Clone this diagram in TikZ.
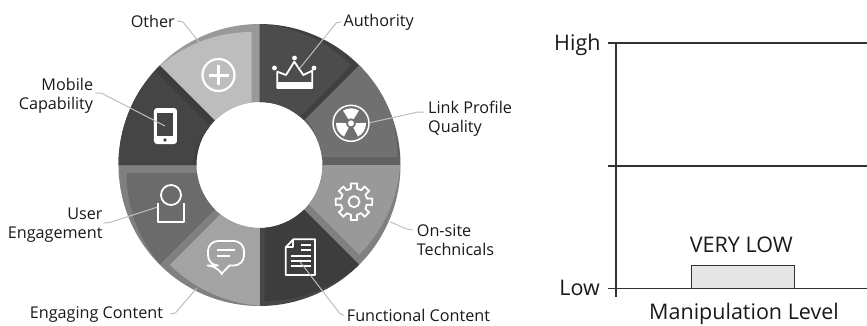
\documentclass[tikz,border=0pt]{standalone}
\usepackage{xcolor}
\usepackage{fontspec}
\setmainfont{Open Sans}
\definecolor{leader}{RGB}{190,190,190}
\definecolor{axisline}{RGB}{50,50,50}
\definecolor{barfill}{RGB}{230,230,230}
\newcommand{\wedgepath}[2]{(#1:141) arc (#1:#2:141) -- (#2:63) arc (#2:#1:63) -- cycle}
% start, end, band, main, offset of the main part
\newcommand{\ringsector}[5]{
  \fill[fill=#3] \wedgepath{#1}{#2};
  \begin{scope}
    \clip \wedgepath{#1}{#2};
    \fill[fill=#4,shift={(#5)}] \wedgepath{#1}{#2};
  \end{scope}
}
\tikzstyle{ringlabel}=[font=\fontsize{16.2}{18.7}\selectfont,inner sep=0pt,text=black!90]
\tikzstyle{chartlabel}=[font=\fontsize{21.5}{24}\selectfont,inner sep=0pt,text=black!90]
\tikzstyle{iconline}=[draw=white,line width=1.8pt,line join=round]
\tikzstyle{iconfill}=[fill=white]
\tikzstyle{leaderline}=[draw=leader,line width=1pt]
\tikzstyle{chartline}=[draw=axisline,line width=1.1pt]
\tikzstyle{levelbar}=[draw=axisline,fill=barfill,line width=1pt,minimum width=102.6pt,minimum height=23.7pt,inner sep=0pt]

\begin{document}
\begin{tikzpicture}[x=1pt,y=1pt]
  \useasboundingbox (-259.5,-160) rectangle (607.5,165);

  %% Ring
  \ringsector{90}{135}{black!40}{black!26}{-8,-8}
  \ringsector{45}{90}{black!75}{black!70}{-8,0}
  \ringsector{0}{45}{black!62}{black!56}{-3,8}
  \ringsector{-45}{0}{black!50}{black!40}{0,10}
  \ringsector{-90}{-45}{black!72}{black!76}{5,5}
  \ringsector{-135}{-90}{black!50}{black!36}{10,0}
  \ringsector{180}{225}{black!50}{black!58}{8,-8}
  \ringsector{135}{180}{black!76}{black!73}{-4,-6}

  %% Icons
  \draw[iconline,line width=2.2pt] (-41,90) circle (16);
  \draw[iconline,line width=3pt] (-51,90) -- (-31,90);
  \draw[iconline,line width=3pt] (-41,80) -- (-41,100);

  \fill[iconfill,rounded corners=3pt] (-105.5,21) rectangle (-82.5,57);
  \fill[fill=black!73] (-102.2,29) rectangle (-86.2,51.7);
  \fill[fill=black!73] (-94.5,25) circle (1.8);

  \draw[iconline] (17.8,77) -- (17.8,93.3) -- (26.5,90) -- (34.8,103.3) -- (43.8,90) -- (52.8,94.3) -- (52.8,77) -- cycle;
  \fill[iconfill] (17.8,76.7) rectangle (52.8,83);
  \foreach \bx/\by in {15/97,35/107,54.5/97}
    \fill[iconfill] (\bx,\by) circle (2.4);

  \begin{scope}[shift={(91.5,41.7)}]
    \draw[iconline,line width=1.5pt] (0,0) circle (18);
    \fill[iconfill] (0,0) circle (3);
    \foreach \a in {90,210,330}
      \fill[iconfill] (\a-32:5) -- (\a-32:15) arc (\a-32:\a+32:15) -- (\a+32:5) arc (\a+32:\a-32:5) -- cycle;
  \end{scope}

  \begin{scope}[shift={(94.5,-36.7)}]
    \draw[iconline] (-13:13) \foreach \a in {0,45,...,315} { -- (\a-13:13.5) -- (\a-10:18.5) -- (\a+10:18.5) -- (\a+13:13.5)} -- cycle;
    \draw[iconline] (0,0) circle (5.5);
  \end{scope}

  \draw[iconline] (33.8,-74.3) -- (55.5,-74.3) -- (55.5,-110) -- (26.2,-110) -- (26.2,-82.3) -- cycle;
  \draw[iconline] (33.8,-74.3) -- (33.8,-82.3) -- (26.2,-82.3);
  \foreach \ly in {-80,-85}
    \draw[iconline] (41,\ly) -- (51,\ly);
  \foreach \ly in {-91,-96,-101}
    \draw[iconline] (31,\ly) -- (51,\ly);

  \draw[iconline,rounded corners=10pt] (-29,-100.5) -- (-15.5,-100.5) -- (-15.5,-76) -- (-51.5,-76) -- (-51.5,-100.5) -- (-42,-100.5) [sharp corners] -- (-37.8,-108.5) -- (-30,-100.5) -- cycle;
  \draw[iconline] (-42.8,-85) -- (-24.5,-85);
  \draw[iconline] (-42.8,-90.7) -- (-29.5,-90.7);

  \draw[iconline] (-88.5,-30) circle (10);
  \draw[iconline] (-101.8,-38.3) -- (-101.8,-56.7) -- (-75.5,-56.7) -- (-75.5,-38.3);

  %% Labels
  \draw (-84.5,138) node[ringlabel,anchor=base east] (other) {Other};
  \draw (83.8,139) node[ringlabel,anchor=base west] (authority) {Authority};
  \draw (168.5,46) node[ringlabel,anchor=west,align=left] (link) {Link Profile\\Quality};
  \draw (157.2,-75) node[ringlabel,anchor=west,align=left] (onsite) {On-site\\Technicals};
  \draw (87.2,-156.5) node[ringlabel,anchor=base west] (functional) {Functional Content};
  \draw (-96.2,-153) node[ringlabel,anchor=base east] (engaging) {Engaging Content};
  \draw (-156.8,-60) node[ringlabel,anchor=east,align=right] (user) {User\\Engagement};
  \draw (-166.2,69) node[ringlabel,anchor=east,align=right] (mobile) {Mobile\\Capability};

  \coordinate (tipOther) at (-47.8,107);
  \coordinate (tipAuthority) at (40.5,97);
  \coordinate (tipLink) at (110.5,42.3);
  \coordinate (tipOnsite) at (130.5,-56.7);
  \coordinate (tipFunctional) at (40.5,-96.7);
  \coordinate (tipEngaging) at (-62.8,-123.3);
  \coordinate (tipUser) at (-102.8,-42.3);
  \coordinate (tipMobile) at (-94.5,39);

  \draw[leaderline] ([xshift=2pt]other.east) -- ++(6,-1) -- (tipOther);
  \draw[leaderline] ([xshift=-2pt]authority.west) -- ++(-5,-1) -- (tipAuthority);
  \draw[leaderline] ([xshift=-4pt,yshift=7pt]link.west) -- ++(-6,0) -- (tipLink);
  \draw[leaderline] ([xshift=-4pt,yshift=10pt]onsite.west) -- ++(-6,1) -- (tipOnsite);
  \draw[leaderline] ([xshift=-3pt]functional.west) -- ++(-4,2) -- (tipFunctional);
  \draw[leaderline] ([xshift=7pt]engaging.east) -- ++(5,1) -- (tipEngaging);
  \draw[leaderline] ([xshift=1pt,yshift=2pt]user.east) -- ++(6,0.5) -- (tipUser);
  \draw[leaderline] ([xshift=2pt,yshift=3pt]mobile.east) -- ++(6,0) -- (tipMobile);

  %% Chart
  \draw[chartline] (356.5,122) -- (356.5,-131.7);
  \draw[chartline] (348.5,122) -- (607.5,122);
  \draw[chartline] (348.5,-1) -- (607.5,-1);
  \draw[chartline] (348.5,-123.7) -- (607.5,-123.7);
  \draw (483.5,-111.85) node[levelbar] (verylowbar) {};
  \draw (341.2,114.3) node[chartlabel,anchor=base east] (high) {High};
  \draw (340.5,-130) node[chartlabel,anchor=base east] (low) {Low};
  \draw (481.8,-87) node[chartlabel,anchor=base] (verylow) {VERY LOW};
  \draw (484.5,-154.5) node[chartlabel,anchor=base] (manipulation) {Manipulation Level};
\end{tikzpicture}
\end{document}
